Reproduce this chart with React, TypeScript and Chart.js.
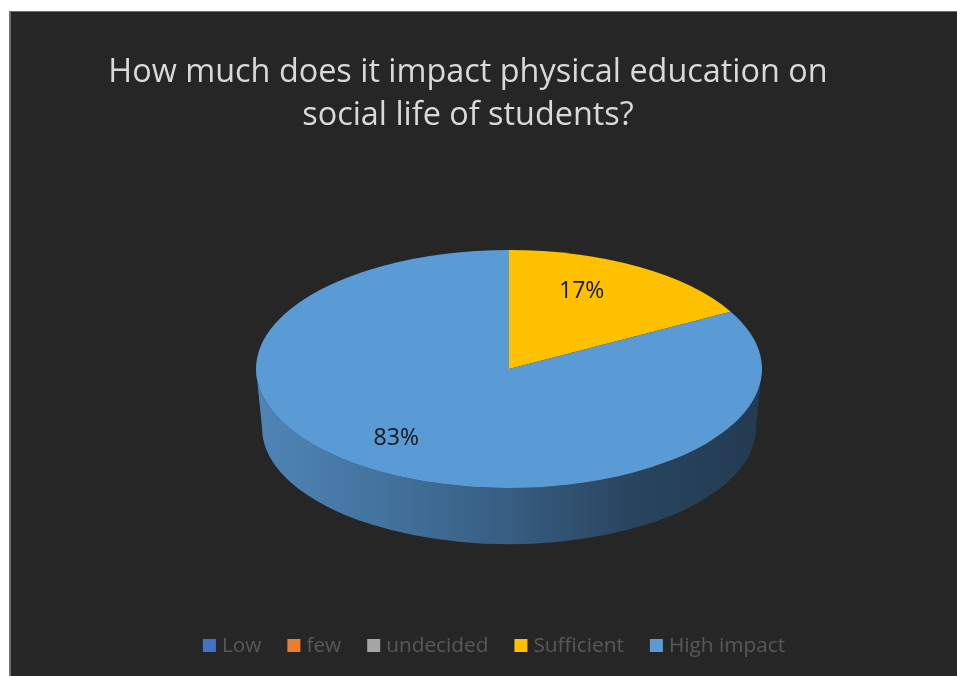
import React, { useEffect, useRef } from 'react';
import { Chart, registerables } from 'chart.js';

Chart.register(...registerables);

// ---- data ----
const categories: string[] = ['Low', 'few', 'undecided', 'Sufficient', 'High impact'];
const values: number[] = [0, 0, 0, 17, 83];
const sliceColors: string[] = ['#4472C4', '#ED7D31', '#A5A5A5', '#FFC000', '#5B9BD5'];
const titleLines: string[] = ['How much does it impact physical education on', 'social life of students?'];

// ---- style constants ----
const FONT = '"Open Sans", "Noto Sans", sans-serif';
const TILT = 119 / 253; // vertical squash of the pie top
const DEPTH = 59; // thickness of the pie wall
const BOTTOM_SCALE = 0.976; // perspective shrink of the bottom rim
const LABEL_POS = 0.72;
const CANVAS_W = 946;
const CANVAS_H = 664;

function shade(hex: string, f: number): string {
  const n = parseInt(hex.slice(1), 16);
  const r = Math.round(((n >> 16) & 255) * f);
  const g = Math.round(((n >> 8) & 255) * f);
  const b = Math.round((n & 255) * f);
  return `rgb(${r},${g},${b})`;
}

const pie3d = {
  id: 'pie3d',
  beforeDatasetsDraw(chart: any) {
    const ctx: CanvasRenderingContext2D = chart.ctx;
    const meta = chart.getDatasetMeta(0);
    const arcs = meta.data;
    if (!arcs.length) return;
    const { x: cx, y: cy, outerRadius: R } = arcs[0].getProps(['x', 'y', 'outerRadius'], true);
    const Rb = R * BOTTOM_SCALE;
    arcs.forEach((arc: any, i: number) => {
      const { startAngle, endAngle } = arc.getProps(['startAngle', 'endAngle'], true);
      const a0 = Math.max(startAngle, 0);
      const a1 = Math.min(endAngle, Math.PI);
      if (a1 <= a0) return;
      const base = sliceColors[i];
      const grad = ctx.createLinearGradient(cx - R, 0, cx + R, 0);
      grad.addColorStop(0, shade(base, 0.86));
      grad.addColorStop(0.25, shade(base, 0.74));
      grad.addColorStop(0.5, shade(base, 0.6));
      grad.addColorStop(0.75, shade(base, 0.44));
      grad.addColorStop(1, shade(base, 0.38));
      ctx.save();
      ctx.beginPath();
      ctx.ellipse(cx, cy, R, R * TILT, 0, a0, a1, false);
      ctx.lineTo(cx + Rb * Math.cos(a1), cy + DEPTH + Rb * TILT * Math.sin(a1));
      ctx.ellipse(cx, cy + DEPTH, Rb, Rb * TILT, 0, a1, a0, true);
      ctx.closePath();
      ctx.fillStyle = grad;
      ctx.fill();
      ctx.restore();
    });
    ctx.save();
    ctx.translate(cx, cy);
    ctx.scale(1, TILT);
    ctx.translate(-cx, -cy);
  },
  afterDatasetsDraw(chart: any) {
    const ctx: CanvasRenderingContext2D = chart.ctx;
    ctx.restore();
    const meta = chart.getDatasetMeta(0);
    const data: number[] = chart.data.datasets[0].data;
    const total = data.reduce((a, b) => a + b, 0);
    ctx.save();
    ctx.font = `23px ${FONT}`;
    ctx.fillStyle = '#161616';
    ctx.textAlign = 'center';
    ctx.textBaseline = 'middle';
    meta.data.forEach((arc: any, i: number) => {
      if (!data[i]) return;
      const { x, y, startAngle, endAngle, outerRadius } = arc.getProps(
        ['x', 'y', 'startAngle', 'endAngle', 'outerRadius'],
        true
      );
      const mid = (startAngle + endAngle) / 2;
      const r = outerRadius * LABEL_POS;
      const lx = x + r * Math.cos(mid) - 20;
      const ly = y + r * TILT * Math.sin(mid) - 4;
      ctx.fillText(`${Math.round((data[i] / total) * 100)}%`, lx, ly);
    });
    ctx.restore();
  },
  afterDraw(chart: any) {
    const ctx: CanvasRenderingContext2D = chart.ctx;
    // title
    ctx.save();
    ctx.font = `32.4px ${FONT}`;
    ctx.fillStyle = '#d9d9d9';
    ctx.textAlign = 'center';
    ctx.textBaseline = 'alphabetic';
    const titleX = 457;
    titleLines.forEach((line, i) => ctx.fillText(line, titleX, 70 + i * 43));
    ctx.restore();

    // legend
    ctx.save();
    ctx.font = `20.8px ${FONT}`;
    ctx.textBaseline = 'alphabetic';
    ctx.textAlign = 'left';
    const box = 13;
    const gapText = 6;
    const gapItem = 26;
    const labels: string[] = chart.data.labels;
    const widths = labels.map((l) => box + gapText + ctx.measureText(l).width);
    const total = widths.reduce((a, b) => a + b, 0) + gapItem * (labels.length - 1);
    let x = 483 - total / 2;
    const baseY = 640;
    labels.forEach((l, i) => {
      ctx.fillStyle = sliceColors[i];
      ctx.fillRect(x, baseY - 13, box, box);
      ctx.fillStyle = '#595959';
      ctx.fillText(l, x + box + gapText, baseY);
      x += widths[i] + gapItem;
    });
    ctx.restore();
  },
};

export default function App() {
  const ref = useRef<HTMLCanvasElement | null>(null);
  useEffect(() => {
    if (!ref.current) return;
    const chart = new Chart(ref.current, {
      type: 'pie',
      data: {
        labels: categories,
        datasets: [
          {
            data: values,
            backgroundColor: sliceColors,
            borderWidth: 0,
            radius: 253,
            clip: false as any,
          } as any,
        ],
      },
      options: {
        animation: false,
        responsive: false,
        events: [],
        devicePixelRatio: 1,
        layout: { padding: { left: 50, right: 0, top: 50, bottom: 0 } },
        plugins: {
          legend: { display: false },
          title: { display: false },
          tooltip: { enabled: false },
        },
      },
      plugins: [pie3d],
    });
    return () => chart.destroy();
  }, []);
  return (
    <div
      style={{
        position: 'fixed',
        left: 9,
        top: 11,
        width: CANVAS_W,
        height: CANVAS_H,
        background: '#262626',
        borderLeft: '2px solid #6f6f6f',
        borderTop: '1px solid #6f6f6f',
      }}
    >
      <canvas ref={ref} width={CANVAS_W} height={CANVAS_H} style={{ display: 'block', width: CANVAS_W, height: CANVAS_H }} />
    </div>
  );
}
